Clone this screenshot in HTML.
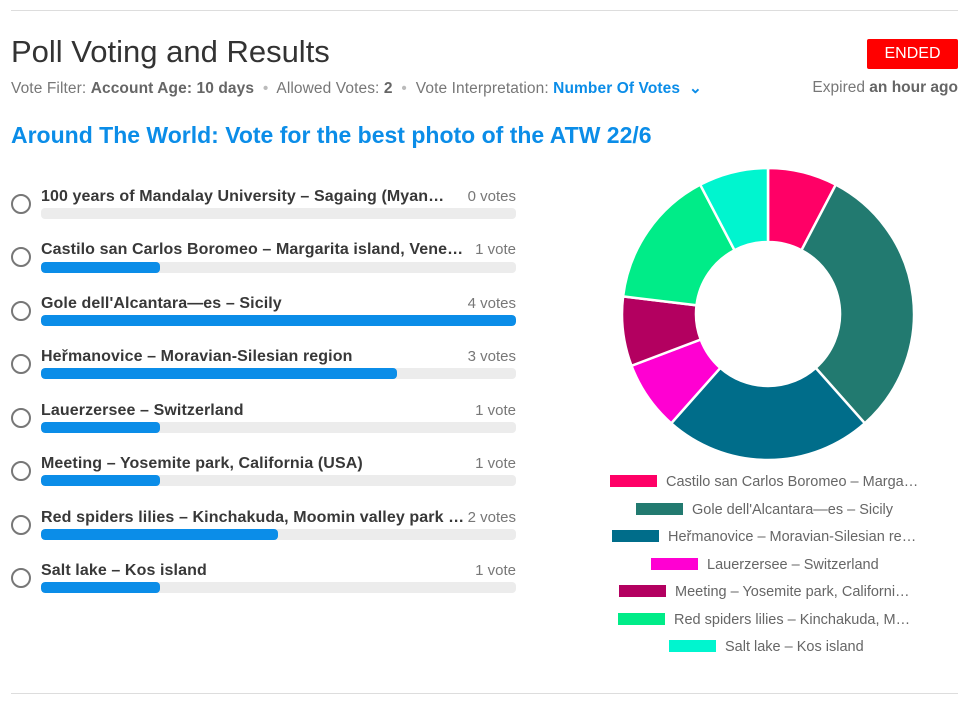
<!DOCTYPE html>
<html><head><meta charset="utf-8"><style>
body{margin:0;width:976px;height:706px;background:#fff;font-family:"Liberation Sans",Arial,sans-serif;position:relative;overflow:hidden}
.hr{position:absolute;left:11px;right:18px;height:1px;background:#ddd}
.a{position:absolute;white-space:nowrap}
.t{font-size:16px;color:#383838;font-weight:bold;letter-spacing:0.1px}
.c{font-size:15px;color:#777;text-align:right;width:100px}
.bar{position:absolute;left:41px;width:475px;height:11px;border-radius:4px;background:#ececec;overflow:hidden}
.bar div{height:100%;background:#0b8de8;border-radius:4px}
.r{position:absolute;left:11px;width:16px;height:16px;border:2px solid #777;border-radius:50%}
.lg{position:absolute;font-size:14.5px;color:#666;white-space:nowrap}
.lg span{display:inline-block;width:47px;height:12px;vertical-align:-1px;margin-right:9px}
</style></head><body>
<div class="hr" style="top:10px"></div>
<div class="hr" style="top:693px"></div>
<div class="a" style="left:11px;top:34px;font-size:31px;color:#333">Poll Voting and Results</div>
<div class="a" style="left:867px;top:39px;width:91px;height:30px;background:#f00;color:#fff;font-size:16px;text-align:center;line-height:30px;border-radius:2px">ENDED</div>
<div class="a" style="left:11px;top:79px;font-size:15.5px;color:#777;letter-spacing:0.1px">Vote Filter: <b style="color:#666">Account Age: 10 days</b> <span style="color:#bbb">&nbsp;•&nbsp;</span> Allowed Votes: <b style="color:#666">2</b> <span style="color:#bbb">&nbsp;•&nbsp;</span> Vote Interpretation: <span style="color:#0b8de8;font-weight:bold">Number Of Votes &nbsp;⌄</span></div>
<div class="a" style="right:18px;top:79px;font-size:15.5px;color:#777">Expired <b style="color:#666">an hour ago</b></div>
<div class="a" style="left:11px;top:122px;font-size:23px;color:#0b8de8;font-weight:bold">Around The World: Vote for the best photo of the ATW 22/6</div>

<div class="r" style="top:194px"></div><div class="a t" style="left:41px;top:188px">100 years of Mandalay University – Sagaing (Myan…</div><div class="a c" style="left:416px;top:188px">0 votes</div><div class="bar" style="top:208px"><div style="width:0"></div></div>
<div class="r" style="top:247px"></div><div class="a t" style="left:41px;top:241px">Castilo san Carlos Boromeo – Margarita island, Vene…</div><div class="a c" style="left:416px;top:241px">1 vote</div><div class="bar" style="top:262px"><div style="width:119px"></div></div>
<div class="r" style="top:301px"></div><div class="a t" style="left:41px;top:295px">Gole dell'Alcantara—es – Sicily</div><div class="a c" style="left:416px;top:295px">4 votes</div><div class="bar" style="top:315px"><div style="width:475px"></div></div>
<div class="r" style="top:354px"></div><div class="a t" style="left:41px;top:348px">Heřmanovice – Moravian-Silesian region</div><div class="a c" style="left:416px;top:348px">3 votes</div><div class="bar" style="top:368px"><div style="width:356px"></div></div>
<div class="r" style="top:408px"></div><div class="a t" style="left:41px;top:402px">Lauerzersee – Switzerland</div><div class="a c" style="left:416px;top:402px">1 vote</div><div class="bar" style="top:422px"><div style="width:119px"></div></div>
<div class="r" style="top:461px"></div><div class="a t" style="left:41px;top:455px">Meeting – Yosemite park, California (USA)</div><div class="a c" style="left:416px;top:455px">1 vote</div><div class="bar" style="top:475px"><div style="width:119px"></div></div>
<div class="r" style="top:515px"></div><div class="a t" style="left:41px;top:509px">Red spiders lilies – Kinchakuda, Moomin valley park …</div><div class="a c" style="left:416px;top:509px">2 votes</div><div class="bar" style="top:529px"><div style="width:237px"></div></div>
<div class="r" style="top:568px"></div><div class="a t" style="left:41px;top:562px">Salt lake – Kos island</div><div class="a c" style="left:416px;top:562px">1 vote</div><div class="bar" style="top:582px"><div style="width:119px"></div></div>

<svg class="a" style="left:0;top:0" width="976" height="706">
<g stroke="#fff" stroke-width="2.5">
<path fill="#ff0066" d="M768,168 A146,146 0 0 1 835.8,184.7 L801.5,250.2 A72,72 0 0 0 768,242Z"/>
<path fill="#227a70" d="M835.8,184.7 A146,146 0 0 1 864.8,423.3 L815.7,367.9 A72,72 0 0 0 801.5,250.2Z"/>
<path fill="#006d8a" d="M864.8,423.3 A146,146 0 0 1 671.2,423.3 L720.3,367.9 A72,72 0 0 0 815.7,367.9Z"/>
<path fill="#ff00d2" d="M671.2,423.3 A146,146 0 0 1 631.5,365.8 L700.7,339.5 A72,72 0 0 0 720.3,367.9Z"/>
<path fill="#b30060" d="M631.5,365.8 A146,146 0 0 1 623.1,296.4 L696.5,305.3 A72,72 0 0 0 700.7,339.5Z"/>
<path fill="#00ec88" d="M623.1,296.4 A146,146 0 0 1 700.2,184.7 L734.5,250.2 A72,72 0 0 0 696.5,305.3Z"/>
<path fill="#00f5cf" d="M700.2,184.7 A146,146 0 0 1 768,168 L768,242 A72,72 0 0 0 734.5,250.2Z"/>
</g></svg>

<div class="lg" style="left:610px;top:474px"><span style="background:#ff0066"></span>Castilo san Carlos Boromeo – Marga…</div>
<div class="lg" style="left:636px;top:502px"><span style="background:#227a70"></span>Gole dell'Alcantara—es – Sicily</div>
<div class="lg" style="left:612px;top:529px"><span style="background:#006d8a"></span>Heřmanovice – Moravian-Silesian re…</div>
<div class="lg" style="left:651px;top:557px"><span style="background:#ff00d2"></span>Lauerzersee – Switzerland</div>
<div class="lg" style="left:619px;top:584px"><span style="background:#b30060"></span>Meeting – Yosemite park, Californi…</div>
<div class="lg" style="left:618px;top:612px"><span style="background:#00ec88"></span>Red spiders lilies – Kinchakuda, M…</div>
<div class="lg" style="left:669px;top:639px"><span style="background:#00f5cf"></span>Salt lake – Kos island</div>
</body></html>
